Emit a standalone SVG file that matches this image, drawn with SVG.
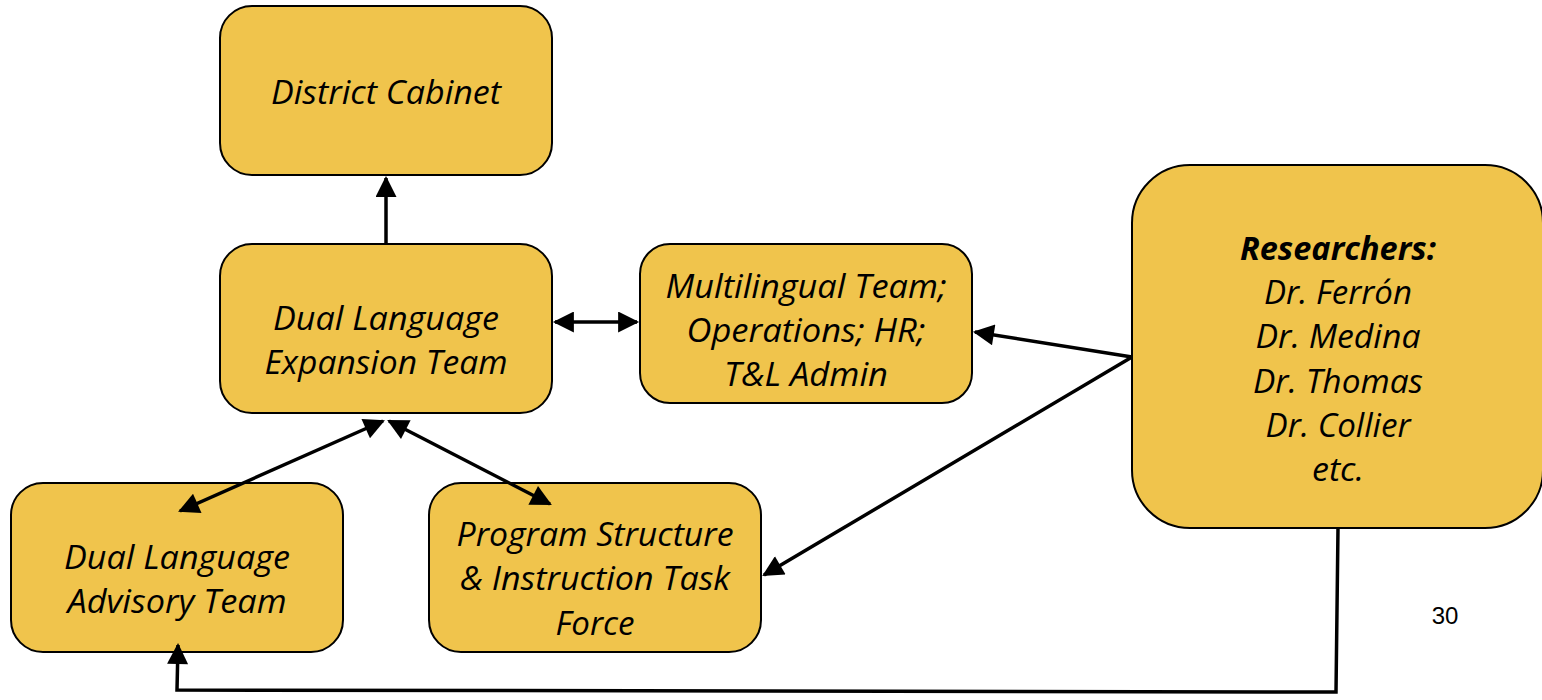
<svg xmlns="http://www.w3.org/2000/svg" width="1542" height="700" viewBox="0 0 1542 700">
<style>
.box{fill:#F0C44C;stroke:#000;stroke-width:2}
.t{font-family:"Open Sans","Liberation Sans",sans-serif;font-style:italic;font-size:32px;fill:#000;text-anchor:middle}
.b{font-weight:bold}
.c{fill:none;stroke:#000;stroke-width:3.5}
.pg{font-family:"Liberation Sans",Arial,sans-serif;font-size:24px;fill:#000}
</style>
<defs>
<marker id="ah" viewBox="0 0 10 10" refX="9" refY="5" markerWidth="7" markerHeight="6" markerUnits="strokeWidth" orient="auto-start-reverse">
<path d="M0,0 L10,5 L0,10 z" fill="#000"/>
</marker>
</defs>
<rect width="1542" height="700" fill="#fff"/>
<g id="district-cabinet">
<rect class="box" x="220" y="6" width="332" height="169" rx="32"/>
<text class="t" x="386" y="104" textLength="230" lengthAdjust="spacingAndGlyphs">District Cabinet</text>
</g>
<g id="dl-expansion-team">
<rect class="box" x="220" y="244" width="332" height="169" rx="32"/>
<text class="t" x="386" y="330" textLength="226" lengthAdjust="spacingAndGlyphs">Dual Language</text>
<text class="t" x="386" y="374" textLength="243" lengthAdjust="spacingAndGlyphs">Expansion Team</text>
</g>
<g id="multilingual-team">
<rect class="box" x="640" y="244" width="332" height="159" rx="30"/>
<text class="t" x="806" y="298" textLength="281" lengthAdjust="spacingAndGlyphs">Multilingual Team;</text>
<text class="t" x="806" y="342" textLength="239" lengthAdjust="spacingAndGlyphs">Operations; HR;</text>
<text class="t" x="806" y="386" textLength="164" lengthAdjust="spacingAndGlyphs">T&amp;L Admin</text>
</g>
<g id="researchers">
<rect class="box" x="1132" y="165" width="411" height="363" rx="58"/>
<text class="t b" x="1338" y="260" textLength="196" lengthAdjust="spacingAndGlyphs">Researchers:</text>
<text class="t" x="1338" y="304" textLength="148" lengthAdjust="spacingAndGlyphs">Dr. Ferrón</text>
<text class="t" x="1338" y="348" textLength="165" lengthAdjust="spacingAndGlyphs">Dr. Medina</text>
<text class="t" x="1338" y="393" textLength="170" lengthAdjust="spacingAndGlyphs">Dr. Thomas</text>
<text class="t" x="1338" y="437" textLength="145" lengthAdjust="spacingAndGlyphs">Dr. Collier</text>
<text class="t" x="1338" y="481" textLength="52" lengthAdjust="spacingAndGlyphs">etc.</text>
</g>
<g id="dl-advisory-team">
<rect class="box" x="11" y="483" width="332" height="169" rx="32"/>
<text class="t" x="177" y="569" textLength="226" lengthAdjust="spacingAndGlyphs">Dual Language</text>
<text class="t" x="177" y="613" textLength="219" lengthAdjust="spacingAndGlyphs">Advisory Team</text>
</g>
<g id="program-structure">
<rect class="box" x="429" y="483" width="332" height="169" rx="32"/>
<text class="t" x="595" y="546" textLength="277" lengthAdjust="spacingAndGlyphs">Program Structure</text>
<text class="t" x="595" y="590" textLength="270" lengthAdjust="spacingAndGlyphs">&amp; Instruction Task</text>
<text class="t" x="595" y="635" textLength="79" lengthAdjust="spacingAndGlyphs">Force</text>
</g>
<g id="connectors">
<line class="c" x1="386" y1="244" x2="386" y2="178" marker-end="url(#ah)"/>
<line class="c" x1="555" y1="322" x2="637" y2="322" marker-start="url(#ah)" marker-end="url(#ah)"/>
<line class="c" x1="1132" y1="357" x2="975" y2="332" marker-end="url(#ah)"/>
<line class="c" x1="1132" y1="357" x2="764" y2="575" marker-end="url(#ah)"/>
<line class="c" x1="383" y1="421" x2="180" y2="511" marker-start="url(#ah)" marker-end="url(#ah)"/>
<line class="c" x1="389" y1="421" x2="550" y2="504" marker-start="url(#ah)" marker-end="url(#ah)"/>
<polyline class="c" points="1338,528 1336,692 177,690 178,645" marker-end="url(#ah)"/>
</g>
<text class="pg" x="1445" y="624" text-anchor="middle">30</text>
</svg>
